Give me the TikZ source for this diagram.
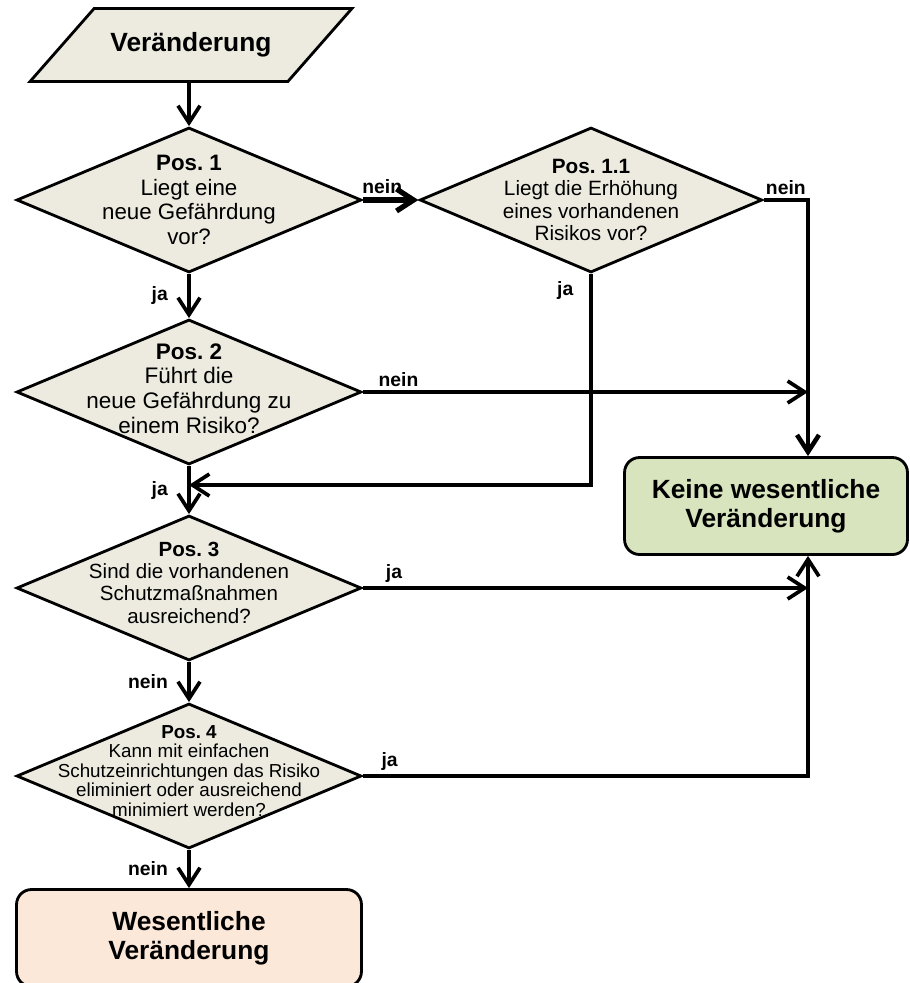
\documentclass[tikz,border=0pt]{standalone}
\usepackage{fontspec}
\setmainfont{Liberation Sans}
\usepackage{xcolor}
\usepackage{tikz}
\usetikzlibrary{shapes.geometric,arrows.meta}

\definecolor{qfill}{RGB}{237,235,224}
\definecolor{okfill}{RGB}{215,228,189}
\definecolor{badfill}{RGB}{252,232,217}

\frenchspacing

\begin{document}
\begin{tikzpicture}[x=0.02cm, y=-0.02cm,
        frame/.style={draw, line width=1.6pt},
        inbox/.style={frame, fill=qfill, trapezium, trapezium left angle=32.5,
            trapezium right angle=147.5, trapezium stretches=true,
            minimum width=6.44cm, minimum height=1.46cm,
            font=\fontsize{15}{16}\selectfont\bfseries},
        query/.style={frame, fill=qfill, diamond, minimum width=6.9cm,
            minimum height=2.9cm, inner sep=0pt},
        qtext/.style={align=center, inner sep=0pt},
        result/.style={frame, rounded corners=0.3cm, minimum height=1.94cm,
            align=center, font=\fontsize{15}{16.5}\selectfont\bfseries},
        flow/.style={line width=2.1pt, -{Straight Barb[length=3.4mm,width=4.4mm]}},
        lbl/.style={font=\fontsize{11}{12}\selectfont\bfseries, inner sep=2pt}]

        \useasboundingbox (0,0) rectangle (909,983);

        \node[inbox] (start) at (191,45) {Veränderung};

        \node[query, label={[qtext, font=\fontsize{12.7}{14}\selectfont]center:{%
            \textbf{Pos. 1}\\Liegt eine\\neue Gefährdung\\vor?}}] (p1) at (189,200) {};
        \node[query, minimum width=6.85cm,
            label={[qtext, font=\fontsize{11.8}{12.6}\selectfont]center:{%
            \textbf{Pos. 1.1}\\Liegt die Erhöhung\\eines vorhandenen\\Risikos vor?}}] (p11) at (591,200) {};
        \node[query, label={[qtext, font=\fontsize{12.8}{14}\selectfont, yshift=2pt]center:{%
            \textbf{Pos. 2}\\Führt die\\neue Gefährdung zu\\einem Risiko?}}] (p2) at (189,392) {};
        \node[query, label={[qtext, font=\fontsize{11.7}{12.6}\selectfont, yshift=3pt]center:{%
            \textbf{Pos. 3}\\Sind die vorhandenen\\Schutzmaßnahmen\\ausreichend?}}] (p3) at (189,588) {};
        \node[query, label={[qtext, font=\fontsize{10.7}{11.1}\selectfont, yshift=3pt]center:{%
            \textbf{Pos. 4}\\Kann mit einfachen\\Schutzeinrichtungen das Risiko\\eliminiert oder ausreichend\\minimiert werden?}}] (p4) at (189,776) {};

        \node[result, fill=okfill, minimum width=5.66cm] (keine) at (766,506)
            {Keine wesentliche\\Veränderung};
        \node[result, fill=badfill, minimum width=6.9cm] (wes) at (189,938)
            {Wesentliche\\Veränderung};

        \coordinate (bus) at (808,200);
        \coordinate (merge) at (189,485);

        % main line
        \draw[flow] (start.south -| p1.north) -- (p1.north);
        \draw[flow] (p1.south) -- node[lbl, left=9pt]{ja} (p2.north);
        \draw[flow] (p2.south) -- node[lbl, left=9pt]{ja} (p3.north);
        \draw[flow] (p3.south) -- node[lbl, left=9pt]{nein} (p4.north);
        \draw[flow] (p4.south) -- node[lbl, left=9pt]{nein} (wes.north);

        % side branches
        \draw[flow, line width=3pt] (p1.east) -- node[lbl, above, pos=0.35]{nein} (p11.west);
        \draw[flow, line width=2.6pt] (p11.east) -- node[lbl, above]{nein} (bus)
            -- (bus |- keine.north);
        \draw[flow] (p11.south) -- node[lbl, left=7pt, pos=0.08]{ja} (p11.south |- merge)
            -- (merge);
        \draw[flow] (p2.east) -- node[lbl, above, pos=0.08]{nein} (p2.east -| bus);
        \draw[flow] (p3.east) -- node[lbl, above, pos=0.07]{ja} (p3.east -| bus);
        \draw[flow] (p4.east) -- node[lbl, above, pos=0.06]{ja} (p4.east -| bus)
            -- (bus |- keine.south);
    \end{tikzpicture}
\end{document}
